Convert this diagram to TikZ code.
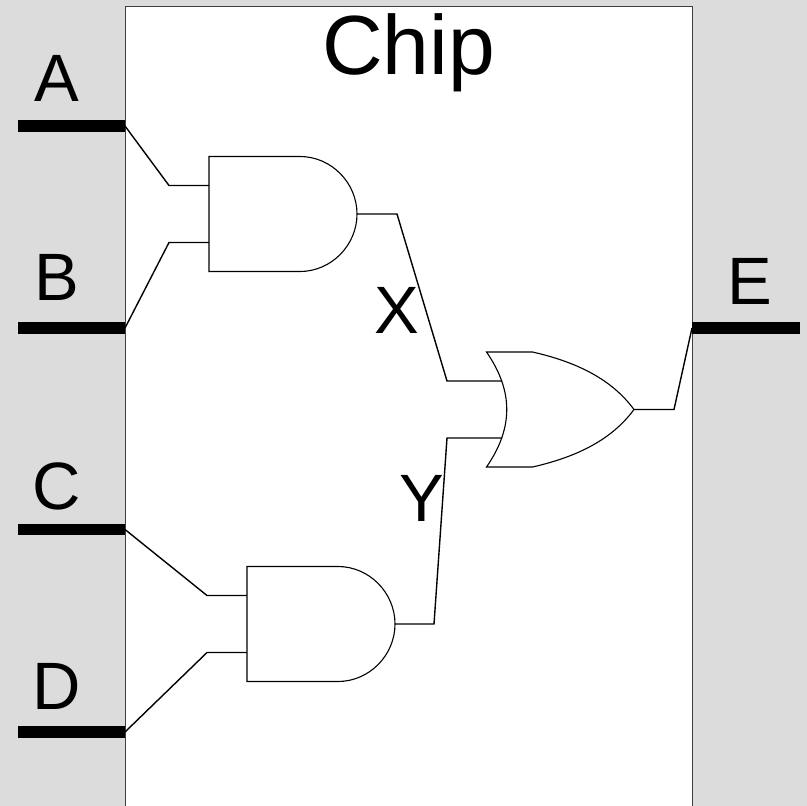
\documentclass[tikz,border=0pt]{standalone}
\usepackage{fontspec}
\setmainfont{Liberation Sans}
\definecolor{pagegray}{HTML}{DCDCDC}
\tikzset{
  lab/.style = {anchor=base,inner sep=0pt,font=\fontsize{67}{67}\selectfont},
  wire/.style = {line width=1.4pt,line join=miter},
  bus/.style = {line width=11.5pt},
  gate/.style = {line width=1.1pt,fill=white,line join=miter},
  andgate/.pic = {
    \draw[gate] (0,0) -- (91,0) .. controls (122,0) and (148,26) .. (148,57.5)
      .. controls (148,89) and (122,115) .. (91,115) -- (0,115) -- cycle;
    \coordinate (-a) at (0,29);
    \coordinate (-b) at (0,86);
    \coordinate (-y) at (148,57.5);
  },
  orgate/.pic = {
    \draw[gate] (0,0) -- (46,0) .. controls (90,10) and (125,27) .. (147.5,57.5)
      .. controls (125,88) and (90,105) .. (46,115) -- (0,115)
      .. controls (27,76) and (27,39) .. (0,0) -- cycle;
    \coordinate (-a) at (15.5,29);
    \coordinate (-b) at (15.5,86);
    \coordinate (-y) at (147.5,57.5);
  }
}
\begin{document}
\begin{tikzpicture}[x=1pt,y=-1pt]
\useasboundingbox[fill=pagegray] (0,0) rectangle (807,806);
\draw[fill=white,line width=1pt,draw=black!75] (125,6) -- (692,6) -- (692,807) -- (125,807) -- cycle;
% ports
\coordinate (a) at (125,126);
\coordinate (b) at (125,328);
\coordinate (c) at (125,529.5);
\coordinate (d) at (125,732);
\coordinate (e) at (692,328);
\coordinate (a0) at (18,126);
\coordinate (b0) at (18,328);
\coordinate (c0) at (18,529.5);
\coordinate (d0) at (18,732);
\coordinate (e0) at (800,328);
\draw[bus] (a0) -- (a);
\draw[bus] (b0) -- (b);
\draw[bus] (c0) -- (c);
\draw[bus] (d0) -- (d);
\draw[bus] (e) -- (e0);
% gates
\pic (and1) at (209,156.5) {andgate};
\pic (and2) at (247,566.5) {andgate};
\pic (or1) at (486.5,352) {orgate};
% bends
\coordinate (a1) at (169,185.5);
\coordinate (b1) at (169,242.5);
\coordinate (c1) at (207,595.5);
\coordinate (d1) at (207,652.5);
\coordinate (x1) at (397,214);
\coordinate (x2) at (447,381);
\coordinate (y1) at (434,624);
\coordinate (y2) at (447,438);
\coordinate (e1) at (674,409.5);
% wires
\draw[wire] (a) -- (a1) -- (and1-a);
\draw[wire] (b) -- (b1) -- (and1-b);
\draw[wire] (c) -- (c1) -- (and2-a);
\draw[wire] (d) -- (d1) -- (and2-b);
\draw[wire] (and1-y) -- (x1) -- (x2) -- (or1-a);
\draw[wire] (and2-y) -- (y1) -- (y2) -- (or1-b);
\draw[wire] (or1-y) -- (e1) -- (e);
% labels
\node[lab] (chiplab) at (408.5,74.5) {\fontsize{84}{84}\selectfont Chip};
\node[lab] (alab) at (56.5,101) {A};
\node[lab] (blab) at (56.5,300) {B};
\node[lab] (clab) at (56.5,509) {C};
\node[lab] (dlab) at (56.5,709) {D};
\node[lab] (elab) at (749.5,304) {E};
\node[lab] (xlab) at (397,333) {X};
\node[lab] (ylab) at (421.5,521) {Y};
\end{tikzpicture}
\end{document}
